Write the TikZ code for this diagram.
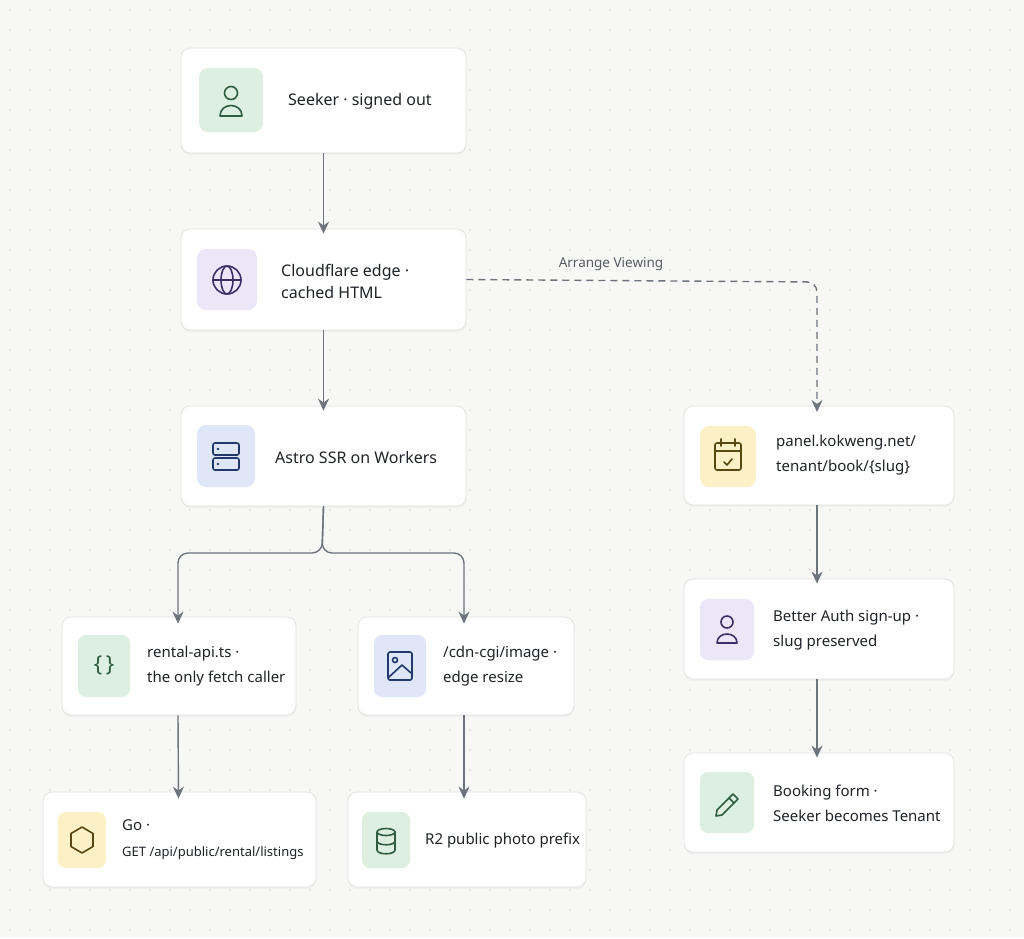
\documentclass[tikz,border=0pt]{standalone}
\usepackage{fontspec}
\setmainfont{Noto Sans}
\usetikzlibrary{arrows.meta,shadows,calc}
\definecolor{bg}{HTML}{F7F7F5}
\definecolor{dot}{HTML}{D6D6D4}
\definecolor{edge}{HTML}{E2E2E2}
\definecolor{conn}{HTML}{6E747C}
\definecolor{gbg}{HTML}{DCEFE1}\definecolor{gfg}{HTML}{2F5D3E}
\definecolor{pbg}{HTML}{ECE7F8}\definecolor{pfg}{HTML}{3A2F66}
\definecolor{bbg}{HTML}{DEE6F7}\definecolor{bfg}{HTML}{20386A}
\definecolor{ybg}{HTML}{FBF0C6}\definecolor{yfg}{HTML}{5A4812}
\definecolor{txt}{HTML}{1F2328}
\tikzset{
 card/.style={draw=edge,fill=white,rounded corners=9pt,line width=0.8pt,
   drop shadow={opacity=0.06,shadow xshift=0pt,shadow yshift=-2pt}},
 ico/.style={line width=1.6pt,line cap=round,line join=round},
 lbl/.style={anchor=west,font=\fontsize{16}{22}\selectfont,text=txt,align=left,inner sep=0pt},
 lbl2/.style={lbl,font=\fontsize{15}{25}\selectfont},
 arr/.style={draw=conn,line width=1.4pt,-{Stealth[length=12pt,width=11pt]}},
}
\newcommand{\cardbox}[5]{\node[card,minimum width=#4-#2,minimum height=#5-#3,inner sep=0pt] (#1) at ({(#2+#4)/2},{(#3+#5)/2}) {};}
\begin{document}
\begin{tikzpicture}[x=1pt,y=-1pt]
\fill[bg] (0,0) rectangle (1024,938);
\useasboundingbox (0,0) rectangle (1024,938);
\foreach \i in {0,...,51}{\foreach \j in {0,...,47}{\fill[dot] (\i*20+10,\j*20+10) circle (0.9);}}
% cards
\cardbox{seeker}{181}{48}{466}{153}
\cardbox{cf}{181}{229}{466}{330}
\cardbox{astro}{181}{406}{466}{506}
\cardbox{rapi}{62}{617}{296}{715}
\cardbox{cdn}{358}{617}{574}{715}
\cardbox{go}{43}{792}{316}{887}
\cardbox{r2}{348}{792}{586}{887}
\cardbox{panel}{684}{406}{954}{505}
\cardbox{auth}{684}{579}{954}{679}
\cardbox{book}{684}{753}{954}{852}
% icon boxes
\fill[gbg,rounded corners=9pt] (199,68) rectangle (263,132);
\fill[pbg,rounded corners=9pt] (197,249) rectangle (257,310);
\fill[bbg,rounded corners=9pt] (197,425) rectangle (255,487);
\fill[gbg,rounded corners=8pt] (78,635) rectangle (130,697);
\fill[bbg,rounded corners=8pt] (374,635) rectangle (426,697);
\fill[ybg,rounded corners=8pt] (58,812) rectangle (106,868);
\fill[gbg,rounded corners=8pt] (362,812) rectangle (410,868);
\fill[ybg,rounded corners=9pt] (700,426) rectangle (756,487);
\fill[pbg,rounded corners=8pt] (700,599) rectangle (754,660);
\fill[gbg,rounded corners=8pt] (700,772) rectangle (754,833);
% icons
\draw[ico,gfg] (231,93) circle (6.5);
\draw[ico,gfg] (220,116) .. controls (220,102) and (242,102) .. (242,116) -- cycle;
\draw[ico,pfg] (227,280) circle (14);
\draw[ico,pfg] (227,280) ellipse (6 and 14);
\draw[ico,pfg] (213,280) -- (241,280);
\draw[ico,bfg,rounded corners=2pt] (213,443) rectangle (239,455);
\draw[ico,bfg,rounded corners=2pt] (213,458) rectangle (239,470);
\fill[bfg] (218,449) circle (1.3) (218,464) circle (1.3);
\node[text=gfg,font=\fontsize{22}{22}\selectfont] at (104,665) {\{\,\}};
\draw[ico,bfg,rounded corners=2pt] (388,652) rectangle (412,680);
\draw[ico,bfg] (395,660) circle (2.5);
\draw[ico,bfg] (389,677) -- (402,665) -- (411,673);
\draw[ico,yfg] (82,827) -- (93,833.5) -- (93,846.5) -- (82,853) -- (71,846.5) -- (71,833.5) -- cycle;
\draw[ico,gfg] (386,832) ellipse (9 and 3.5);
\draw[ico,gfg] (377,832) -- (377,850) .. controls (377,855) and (395,855) .. (395,850) -- (395,832);
\draw[ico,gfg] (377,841) .. controls (377,846) and (395,846) .. (395,841);
\draw[ico,yfg,rounded corners=2pt] (715,443) rectangle (741,470);
\draw[ico,yfg] (715,451) -- (741,451) (721,439) -- (721,446) (735,439) -- (735,446);
\draw[ico,yfg] (724,462) -- (727,465) -- (732,459);
\draw[ico,pfg] (727,622) circle (6);
\draw[ico,pfg] (717,643) .. controls (717,631) and (737,631) .. (737,643) -- cycle;
\draw[ico,gfg] (716,816) -- (717,810) -- (733,794) -- (738,799) -- (722,815) -- cycle;
\draw[ico,gfg] (729,798) -- (734,803);
% labels
\node[lbl] at (288,101) {Seeker · signed out};
\node[lbl] at (281,281) {Cloudflare edge ·\\cached HTML};
\node[lbl] at (275,457) {Astro SSR on Workers};
\node[lbl2] at (147,666) {rental-api.ts ·\\the only fetch caller};
\node[lbl2] at (443,666) {/cdn-cgi/image ·\\edge resize};
\node[lbl2,font=\fontsize{15}{26}\selectfont] at (122,840) {Go ·\\{\fontsize{13}{16}\selectfont GET /api/public/rental/listings}};
\node[lbl2] at (425,841) {R2 public photo prefix};
\node[lbl2] at (776,455) {panel.kokweng.net/\\tenant/book/\{slug\}};
\node[lbl2] at (773,630) {Better Auth sign-up ·\\slug preserved};
\node[lbl2] at (773,803) {Booking form ·\\Seeker becomes Tenant};
% connectors
\coordinate (pc) at (817,406);
\draw[arr] (seeker.south) -- ([yshift=-5pt]cf.north);
\draw[arr] (cf.south) -- ([yshift=-5pt]astro.north);
\coordinate (br) at (322,553);
\draw[arr,rounded corners=10pt] (astro.south) -- (br) -| ([xshift=-1pt,yshift=-7pt]rapi.north);
\draw[arr,rounded corners=10pt] (astro.south) -- (br) -| ([xshift=-2pt,yshift=-7pt]cdn.north);
\draw[arr] ([xshift=-1pt]rapi.south) -- ([xshift=-1pt,yshift=-7pt]go.north);
\draw[arr] ([xshift=-2pt]cdn.south) -- ([xshift=-3pt,yshift=-7pt]r2.north);
\draw[arr,dash pattern=on 7pt off 5pt,rounded corners=10pt] (cf.east) -- (817,282) -- ([yshift=-6pt]pc);
\node[font=\fontsize{13.5}{16}\selectfont,text=conn!80!black] at (611,264) {Arrange Viewing};
\draw[arr] (panel.south-|pc) -- ([yshift=-5pt]auth.north-|pc);
\draw[arr] (auth.south-|pc) -- ([yshift=-5pt]book.north-|pc);
\end{tikzpicture}
\end{document}
